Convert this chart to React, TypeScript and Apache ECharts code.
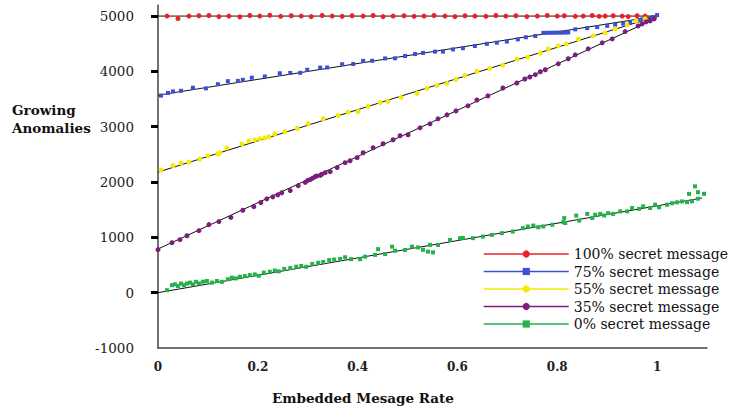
import React, { useEffect, useRef } from "react";
import * as echarts from "echarts";

// ---- data (x = embedded message rate, y = growing anomalies) ----
const seriesNames = [
  "100% secret message",
  "75% secret message",
  "55% secret message",
  "35% secret message",
  "0% secret message",
];

const redPoints = [
  [0.018, 5000], [0.04, 4955], [0.062, 5000], [0.082, 5005], [0.102, 5010], [0.122, 4990],
  [0.142, 5000], [0.164, 4985], [0.184, 5010], [0.204, 5000], [0.224, 5015], [0.246, 4995],
  [0.267, 5005], [0.287, 5000], [0.307, 4990], [0.329, 5010], [0.349, 5000], [0.369, 4995],
  [0.389, 5005], [0.411, 5000], [0.431, 5010], [0.451, 4990], [0.471, 5000], [0.493, 5005],
  [0.513, 4995], [0.533, 5000], [0.553, 5010], [0.575, 5000], [0.595, 4990], [0.615, 5005],
  [0.635, 5000], [0.657, 4995], [0.677, 5010], [0.697, 5000], [0.717, 5005], [0.739, 4990],
  [0.76, 5000], [0.78, 5010], [0.8, 5000], [0.814, 5005], [0.836, 4995], [0.852, 5000],
  [0.87, 5010], [0.884, 4995], [0.896, 5000], [0.912, 5005], [0.93, 5000], [0.942, 4990],
  [0.96, 5005], [0.976, 5000],
];

const bluePoints = [
  [0.006, 3563], [0.02, 3610], [0.03, 3638], [0.046, 3649], [0.07, 3706], [0.096, 3693],
  [0.12, 3769], [0.14, 3824], [0.16, 3828], [0.17, 3847], [0.188, 3886], [0.214, 3908],
  [0.244, 3966], [0.265, 3971], [0.285, 3974], [0.299, 4030], [0.325, 4069], [0.339, 4071],
  [0.369, 4130], [0.391, 4134], [0.411, 4190], [0.429, 4192], [0.455, 4234], [0.475, 4236],
  [0.495, 4278], [0.515, 4313], [0.531, 4334], [0.555, 4357], [0.571, 4358], [0.591, 4397],
  [0.611, 4419], [0.635, 4458], [0.659, 4498], [0.679, 4519], [0.699, 4539], [0.721, 4579],
  [0.737, 4617], [0.756, 4640], [0.772, 4696], [0.779, 4697], [0.786, 4698], [0.792, 4699],
  [0.798, 4700], [0.804, 4701], [0.81, 4701], [0.816, 4703], [0.822, 4704], [0.836, 4760],
  [0.86, 4782], [0.88, 4801], [0.9, 4823], [0.916, 4844], [0.932, 4863], [0.946, 4883],
  [0.962, 4923], [0.97, 4941], [0.98, 4942], [0.992, 4982], [1.0, 5018],
];

const yellowPoints = [
  [0.006, 2217], [0.03, 2299], [0.046, 2344], [0.062, 2362], [0.084, 2417], [0.1, 2470],
  [0.12, 2507], [0.124, 2530], [0.138, 2616], [0.168, 2690], [0.182, 2743], [0.194, 2761],
  [0.204, 2780], [0.214, 2797], [0.222, 2817], [0.234, 2871], [0.254, 2907], [0.279, 2967],
  [0.301, 3056], [0.331, 3145], [0.361, 3202], [0.381, 3262], [0.401, 3275], [0.421, 3367],
  [0.445, 3435], [0.461, 3457], [0.487, 3530], [0.519, 3603], [0.539, 3693], [0.559, 3747],
  [0.579, 3784], [0.597, 3857], [0.615, 3928], [0.639, 4002], [0.665, 4055], [0.691, 4113],
  [0.719, 4221], [0.741, 4257], [0.766, 4333], [0.782, 4405], [0.802, 4460], [0.818, 4496],
  [0.842, 4586], [0.872, 4643], [0.896, 4696], [0.916, 4768], [0.94, 4842], [0.958, 4914],
  [0.976, 4950],
];

const purplePoints = [
  [0.0, 778], [0.028, 904], [0.044, 958], [0.058, 1029], [0.082, 1121], [0.102, 1230],
  [0.122, 1285], [0.146, 1360], [0.17, 1490], [0.192, 1555], [0.206, 1630], [0.218, 1696],
  [0.23, 1732], [0.24, 1768], [0.248, 1806], [0.265, 1846], [0.281, 1935], [0.295, 1993],
  [0.3, 2030], [0.305, 2044], [0.31, 2070], [0.315, 2099], [0.318, 2110], [0.325, 2119],
  [0.328, 2140], [0.335, 2169], [0.345, 2188], [0.359, 2261], [0.375, 2350], [0.385, 2385],
  [0.399, 2441], [0.411, 2530], [0.431, 2620], [0.451, 2692], [0.471, 2765], [0.485, 2836],
  [0.501, 2854], [0.525, 2980], [0.545, 3052], [0.561, 3143], [0.579, 3214], [0.597, 3286],
  [0.621, 3378], [0.639, 3483], [0.661, 3557], [0.691, 3700], [0.719, 3790], [0.735, 3863],
  [0.745, 3899], [0.756, 3940], [0.766, 3994], [0.776, 4029], [0.802, 4137], [0.822, 4228],
  [0.836, 4299], [0.862, 4408], [0.89, 4516], [0.91, 4587], [0.936, 4720], [0.962, 4822],
  [0.97, 4858], [0.978, 4895], [0.986, 4912], [0.994, 4949],
];

const greenPoints = [
  [0.018, 45], [0.028, 136], [0.034, 151], [0.04, 120], [0.046, 165], [0.052, 136],
  [0.058, 166], [0.064, 182], [0.07, 151], [0.076, 197], [0.082, 167], [0.09, 198],
  [0.098, 211], [0.108, 182], [0.118, 212], [0.128, 196], [0.14, 243], [0.148, 272],
  [0.156, 257], [0.164, 288], [0.174, 300], [0.184, 318], [0.194, 330], [0.202, 305],
  [0.212, 362], [0.224, 378], [0.234, 400], [0.242, 385], [0.253, 430], [0.265, 445],
  [0.277, 470], [0.287, 482], [0.297, 468], [0.309, 520], [0.321, 540], [0.331, 555],
  [0.343, 590], [0.353, 600], [0.365, 610], [0.375, 640], [0.387, 607], [0.405, 606],
  [0.415, 651], [0.435, 683], [0.441, 787], [0.455, 698], [0.469, 832], [0.475, 758],
  [0.495, 772], [0.509, 832], [0.521, 818], [0.531, 774], [0.541, 742], [0.551, 728],
  [0.545, 864], [0.561, 863], [0.585, 954], [0.605, 985], [0.611, 990], [0.631, 985],
  [0.651, 1014], [0.669, 1044], [0.689, 1076], [0.711, 1105], [0.731, 1166], [0.741, 1196],
  [0.752, 1213], [0.762, 1182], [0.772, 1197], [0.79, 1228], [0.812, 1275], [0.814, 1348],
  [0.816, 1259], [0.838, 1394], [0.844, 1304], [0.86, 1424], [0.87, 1349], [0.876, 1408],
  [0.886, 1424], [0.894, 1395], [0.902, 1439], [0.912, 1424], [0.926, 1469], [0.94, 1470],
  [0.95, 1530], [0.964, 1515], [0.972, 1561], [0.986, 1530], [0.996, 1591], [1.004, 1544],
  [1.02, 1590], [1.03, 1617], [1.04, 1633], [1.05, 1649], [1.06, 1636], [1.07, 1652],
  [1.064, 1786], [1.076, 1922], [1.082, 1816], [1.094, 1787], [1.082, 1699],
];

// fitted trend lines (black)
const redTrend = [[0, 5000], [1, 5000]];
const blueTrend = [[0, 3570], [1, 5000]];
const yellowTrend = [[0, 2180], [1, 5000]];
const purpleTrend = [[0, 790], [1, 4970]];
const greenTrend = [[0, 0], [1.09, 1711]];

const xLabelValues = [0, 0.2, 0.4, 0.6, 0.8, 1];
const yLabelValues = [-1000, 0, 1000, 2000, 3000, 4000, 5000];
const yTickValues = [0, 1000, 2000, 3000, 4000, 5000];

const colors = ["#ee2027", "#3d4fd4", "#f5ea00", "#7b1e7e", "#25b14b"];
const symbols = ["circle", "rect", "circle", "circle", "rect"];
const symbolSizes = [5, 4, 5, 5, 4];

const SERIF = "DejaVu Serif";

export default function App() {
  const ref = useRef<HTMLDivElement>(null);

  useEffect(() => {
    document.body.style.margin = "0";
    if (!ref.current) return;
    const chart = echarts.init(ref.current, null, { renderer: "svg" });
    const pointSets = [redPoints, bluePoints, yellowPoints, purplePoints, greenPoints];
    const trends = [redTrend, blueTrend, yellowTrend, purpleTrend, greenTrend];

    const pointSeries = pointSets.map((pts, i) => ({
      name: seriesNames[i],
      type: "line",
      data: pts,
      symbol: symbols[i],
      symbolSize: symbolSizes[i],
      showSymbol: true,
      color: colors[i],
      itemStyle: { color: colors[i], borderWidth: 0 },
      lineStyle: { width: 1.5, opacity: 0 },
      silent: true,
      z: 3,
    }));
    const trendSeries = trends.map((t) => ({
      type: "line",
      data: t,
      symbol: "none",
      lineStyle: { color: "#111", width: 1 },
      silent: true,
      z: 2,
    }));

    chart.setOption({
      animation: false,
      grid: { left: 158, right: 25, top: 5, bottom: 62, outerBoundsMode: "none" },
      xAxis: {
        type: "value",
        min: 0,
        max: 1.1,
        splitLine: { show: false },
        axisLine: { show: true, onZero: false, lineStyle: { color: "#444", width: 1.5 } },
        axisTick: { show: false },
        axisLabel: {
          customValues: xLabelValues,
          formatter: (v: number) => String(v),
          margin: 13,
          fontFamily: SERIF,
          fontWeight: "bold",
          fontSize: 12,
          color: "#222",
        },
      },
      yAxis: {
        type: "value",
        min: -1000,
        max: 5200,
        splitLine: { show: false },
        axisLine: { show: true, onZero: false, lineStyle: { color: "#444", width: 1.5 } },
        axisTick: {
          show: true,
          customValues: yTickValues,
          length: 7,
          lineStyle: { color: "#000", width: 3 },
        },
        axisLabel: {
          customValues: yLabelValues,
          formatter: (v: number) => String(v),
          margin: 24,
          fontFamily: SERIF,
          fontSize: 13.5,
          color: "#222",
        },
      },
      legend: {
        data: seriesNames,
        orient: "vertical",
        left: 483,
        top: 247,
        padding: 0,
        itemWidth: 85,
        itemHeight: 9,
        itemGap: 3.5,
        selectedMode: false,
        lineStyle: { width: 1.5, opacity: 1 },
        textStyle: { fontFamily: SERIF, fontSize: 14, color: "#111", lineHeight: 14 },
      },
      graphic: [
        {
          type: "text",
          left: 12,
          top: 101,
          style: {
            text: "Growing\nAnomalies",
            font: `bold 13.5px '${SERIF}'`,
            fill: "#111",
            lineHeight: 18,
          },
        },
        {
          type: "text",
          left: 272,
          top: 391,
          style: {
            text: "Embedded Mesage Rate",
            font: `bold 13.5px '${SERIF}'`,
            fill: "#111",
          },
        },
      ],
      series: [...trendSeries, ...pointSeries],
    });
    return () => chart.dispose();
  }, []);

  return <div ref={ref} style={{ width: 732, height: 410 }} />;
}
